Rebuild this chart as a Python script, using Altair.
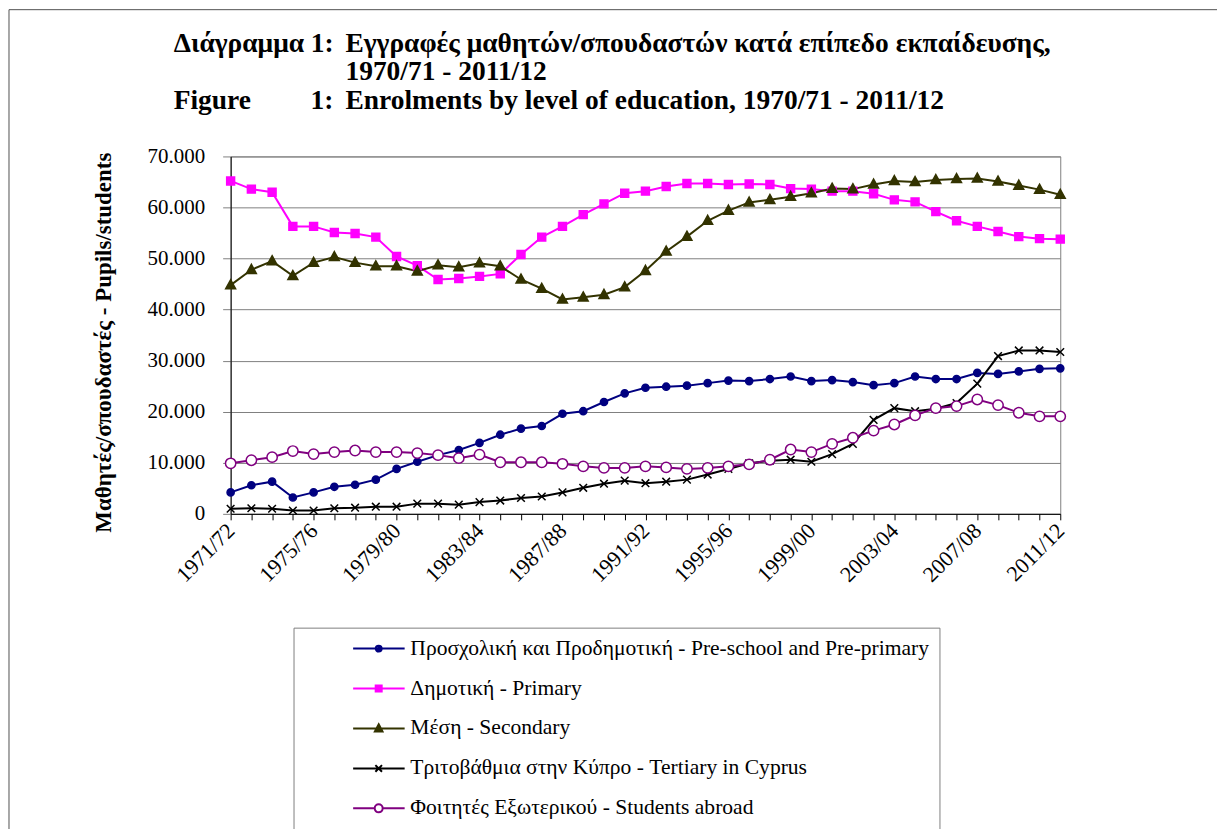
import json
import altair as alt
import pandas as pd

# ---------------- data ----------------
years = [
    "1971/72", "1972/73", "1973/74", "1974/75", "1975/76", "1976/77", "1977/78",
    "1978/79", "1979/80", "1980/81", "1981/82", "1982/83", "1983/84", "1984/85",
    "1985/86", "1986/87", "1987/88", "1988/89", "1989/90", "1990/91", "1991/92",
    "1992/93", "1993/94", "1994/95", "1995/96", "1996/97", "1997/98", "1998/99",
    "1999/00", "2000/01", "2001/02", "2002/03", "2003/04", "2004/05", "2005/06",
    "2006/07", "2007/08", "2008/09", "2009/10", "2010/11", "2011/12",
]
label_years = ["1971/72", "1975/76", "1979/80", "1983/84", "1987/88", "1991/92",
               "1995/96", "1999/00", "2003/04", "2007/08", "2011/12"]
y_ticks = [0, 10000, 20000, 30000, 40000, 50000, 60000, 70000]

series = [
    "Προσχολική και Προδημοτική - Pre-school and Pre-primary",
    "Δημοτική - Primary",
    "Μέση - Secondary",
    "Τριτοβάθμια στην Κύπρο - Tertiary in Cyprus",
    "Φοιτητές Εξωτερικού - Students abroad",
]

preschool = [4200, 5600, 6300, 3200, 4200, 5300, 5700, 6700, 8800, 10200,
             11500, 12500, 13900, 15500, 16700, 17200, 19600, 20100, 21900, 23600,
             24700, 24900, 25100, 25600, 26100, 26000, 26400, 26900, 26000, 26200,
             25800, 25200, 25600, 26900, 26400, 26400, 27600, 27400, 27900, 28400,
             28500]
primary = [65200, 63600, 63000, 56300, 56300, 55100, 54900, 54200, 50400, 48600,
           45900, 46100, 46500, 47000, 50800, 54200, 56300, 58600, 60700, 62800,
           63200, 64100, 64700, 64700, 64500, 64600, 64500, 63700, 63600, 63200,
           63200, 62700, 61500, 61100, 59200, 57400, 56300, 55300, 54300, 53900,
           53800]
secondary = [44800, 47800, 49500, 46600, 49200, 50300, 49200, 48500, 48500, 47500,
             48700, 48300, 49100, 48500, 45900, 44100, 42000, 42400, 42900, 44400,
             47600, 51400, 54300, 57400, 59400, 61000, 61500, 62100, 62800, 63700,
             63600, 64500, 65200, 65000, 65400, 65600, 65700, 65100, 64300, 63500,
             62500]
tertiary = [1000, 1100, 1000, 650, 650, 1100, 1200, 1400, 1400, 2000,
            2000, 1800, 2300, 2600, 3100, 3400, 4200, 5100, 5900, 6500,
            6000, 6300, 6700, 7700, 8800, 9900, 10400, 10600, 10200, 11700,
            13700, 18400, 20700, 20100, 20600, 21700, 25500, 30900, 32000, 32000,
            31700]
abroad = [9900, 10500, 11100, 12300, 11700, 12100, 12400, 12100, 12100, 11900,
          11500, 10900, 11600, 10100, 10100, 10100, 9800, 9300, 9000, 9000,
          9300, 9100, 8800, 9000, 9300, 9700, 10600, 12600, 12100, 13700,
          14900, 16300, 17500, 19300, 20700, 21100, 22400, 21300, 19800, 19100,
          19100]

values_by_series = [preschool, primary, secondary, tertiary, abroad]

title_label_1 = "Διάγραμμα 1:"
title_text_1 = "Εγγραφές μαθητών/σπουδαστών κατά επίπεδο εκπαίδευσης,"
title_text_2 = "1970/71 - 2011/12"
title_label_3 = "Figure"
title_num_3 = "1:"
title_text_3 = "Enrolments by level of education, 1970/71 - 2011/12"
y_title = "Μαθητές/σπουδαστές - Pupils/students"

rows = []
for s, vals in zip(series, values_by_series):
    for yr, v in zip(years, vals):
        rows.append({"year": yr, "series": s, "value": v})
df = pd.DataFrame(rows)

# ---------------- styles ----------------
FONT = "Liberation Serif"
colors = ["#000080", "#FF00FF", "#333300", "#000000", "#800080"]
fills = ["#000080", "#FF00FF", "#333300", "#000000", "#FFFFFF"]

marker_paths = [
    "M-0.8,0A0.8,0.8 0 1,1 0.8,0A0.8,0.8 0 1,1 -0.8,0Z",
    "M-0.88,-0.88H0.88V0.88H-0.88Z",
    "M0,-1.2L1.1,0.8L-1.1,0.8Z",
    "M-0.85,-0.85L0.85,0.85M-0.85,0.85L0.85,-0.85",
    "M-1.15,0A1.15,1.15 0 1,1 1.15,0A1.15,1.15 0 1,1 -1.15,0Z",
]


def ring(cx, r):
    return "M%.2f,0A%.2f,%.2f 0 1,1 %.2f,0A%.2f,%.2f 0 1,1 %.2f,0Z" % (
        cx - r, r, r, cx + r, r, r, cx - r)


def sq(cx, h):
    return "M%.2f,%.2fH%.2fV%.2fH%.2fZ" % (cx - h, -h, cx + h, h, cx - h)


def tri(cx, s):
    return "M%.2f,%.2fL%.2f,%.2fL%.2f,%.2fZ" % (cx, -1.1 * s, cx + s, 0.75 * s, cx - s, 0.75 * s)


LX0, LX1, LC = 3.87, 9.03, 6.43  # legend symbol geometry in legend units (10px)
legend_paths = [
    "M%.2f,0H%.2f" % (LX0, LX1) + ring(LC, 0.1) + ring(LC, 0.3),
    "M%.2f,0H%.2f" % (LX0, LX1) + sq(LC, 0.1) + sq(LC, 0.3),
    "M%.2f,0H%.2f" % (LX0, LX1) + tri(LC, 0.15) + tri(LC, 0.38),
    "M%.2f,0H%.2f" % (LX0, LX1) + "M%.2f,-0.33L%.2f,0.33M%.2f,0.33L%.2f,-0.33" % (LC - 0.33, LC + 0.33, LC - 0.33, LC + 0.33),
    "M%.2f,0H%.2fM%.2f,0H%.2f" % (LX0, LC - 0.4, LC + 0.4, LX1) + ring(LC, 0.4),
]

stroke_map = json.dumps(dict(zip(series, colors)), ensure_ascii=False)

x_enc = alt.X(
    "year:N",
    sort=years,
    scale=alt.Scale(type="point", padding=0, domain=years),
    axis=alt.Axis(
        title=None,
        values=years,
        labelExpr="indexof(" + json.dumps(label_years) + ", datum.value) >= 0 ? datum.value : ''",
        labelAngle=315,
        labelAlign="right",
        labelBaseline="middle",
        labelPadding=7,
        labelOverlap=False,
        labelFont=FONT,
        labelFontSize=22,
        labelColor="black",
        tickSize=6,
        tickColor="black",
        domainColor="black",
        grid=False,
    ),
)
y_enc = alt.Y(
    "value:Q",
    scale=alt.Scale(domain=[0, 70000], nice=False),
    axis=alt.Axis(
        values=y_ticks,
        labelExpr="replace(format(datum.value, ','), ',', '.')",
        labelFont=FONT,
        labelFontSize=21,
        labelColor="black",
        labelPadding=18,
        tickSize=8,
        tickColor="#808080",
        domainColor="black",
        grid=True,
        gridColor="#808080",
        title=y_title,
        titleFont=FONT,
        titleFontSize=23,
        titleFontWeight="bold",
        titleColor="black",
        titleX=-127,
        titleY=186,
        titleAngle=270,
        titleAlign="center",
        titleBaseline="middle",
    ),
)

stroke_enc = alt.Stroke("series:N", scale=alt.Scale(domain=series, range=colors), legend=None)

lines = alt.Chart(df).mark_line(strokeWidth=2).encode(x=x_enc, y=y_enc, stroke=stroke_enc)

points = alt.Chart(df).mark_point(size=81, strokeWidth=1.5, opacity=1).encode(
    x=x_enc,
    y=y_enc,
    stroke=stroke_enc,
    fill=alt.Fill("series:N", scale=alt.Scale(domain=series, range=fills), legend=None),
    shape=alt.Shape("series:N", scale=alt.Scale(domain=series, range=marker_paths), legend=None),
)

legend_layer = alt.Chart(df).mark_point(size=400, opacity=0).encode(
    x=x_enc,
    y=y_enc,
    shape=alt.Shape(
        "series:N",
        scale=alt.Scale(domain=series, range=legend_paths),
        legend=alt.Legend(
            title=None,
            orient="none",
            legendX=63,
            legendY=472,
            direction="vertical",
            padding=10,
            strokeColor="#808080",
            fillColor="white",
            symbolSize=400,
            symbolStrokeWidth=2,
            symbolOpacity=1,
            symbolStrokeColor=alt.ExprRef(expr=stroke_map + "[datum.value]"),
            labelFont=FONT,
            labelFontSize=21.6,
            labelColor="black",
            labelOffset=85,
            labelLimit=0,
            rowPadding=18,
        ),
    ),
)

one = pd.DataFrame({"k": [0]})
frame_left = alt.Chart(one).mark_rule(color="#505050", strokeWidth=1).encode(
    x=alt.value(-222), y=alt.value(-147), y2=alt.value(674)
)
frame_top = alt.Chart(one).mark_rule(color="#505050", strokeWidth=1).encode(
    x=alt.value(-222), x2=alt.value(988), y=alt.value(-147)
)


def title_text(txt, x, y):
    return alt.Chart(one).mark_text(
        align="left", baseline="alphabetic", font=FONT, fontSize=27.5,
        fontWeight="bold", color="black",
    ).encode(x=alt.value(x), y=alt.value(y), text=alt.value(txt))


titles = [
    title_text(title_label_1, -57, -105),
    title_text(title_text_1, 115, -105),
    title_text(title_text_2, 115, -76.5),
    title_text(title_label_3, -57, -48),
    title_text(title_num_3, 80, -48),
    title_text(title_text_3, 115, -48),
]

chart = (
    alt.layer(frame_left, frame_top, *titles, lines, points, legend_layer)
    .resolve_scale(shape="independent")
    .properties(width=831, height=358, padding=0, background="white")
    .configure_view(stroke="#808080", strokeWidth=1)
)

chart.save("out.html", embed_options={"renderer": "svg", "actions": False})
